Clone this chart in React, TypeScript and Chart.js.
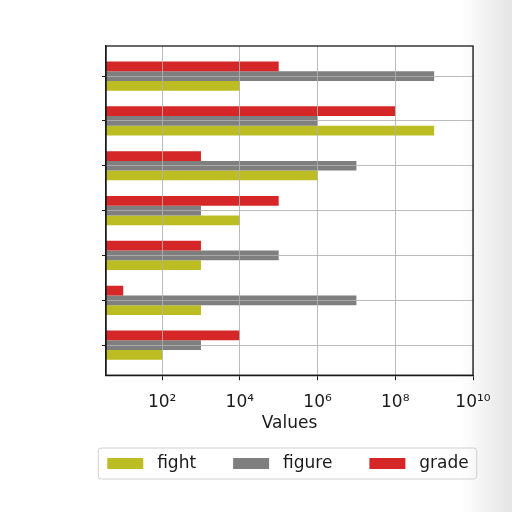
import { useEffect, useRef } from "react"
import { Chart, registerables } from "chart.js"

Chart.register(...registerables)

// categories have no visible labels in the chart, top to bottom
const categories = ["c1", "c2", "c3", "c4", "c5", "c6", "c7"]
const gradeValues = [1e5, 1e8, 1e3, 1e5, 1e3, 1e1, 1e4]
const figureValues = [1e9, 1e6, 1e7, 1e3, 1e5, 1e7, 1e3]
const fightValues = [1e4, 1e9, 1e6, 1e4, 1e3, 1e3, 1e2]
const xTickValues = [1e2, 1e4, 1e6, 1e8, 1e10]

const FONT = "'DejaVu Sans', sans-serif"
const TEXT = "#1a1a1a"
const GRID = "rgba(176,176,176,0.85)"

const SUP: Record<string, string> = {
  "0": "⁰", "1": "¹", "2": "²", "3": "³", "4": "⁴",
  "5": "⁵", "6": "⁶", "7": "⁷", "8": "⁸", "9": "⁹",
}
const powerLabel = (v: number) =>
  "10" + String(Math.round(Math.log10(v))).split("").map((d) => SUP[d]).join("")

const toPoints = (values: number[]) => values.map((v, i) => ({ x: v, y: i }))

// frame around the plot area (matplotlib style axes box)
const framePlugin = {
  id: "frame",
  afterDraw(chart: Chart) {
    const { ctx, chartArea } = chart
    ctx.save()
    ctx.strokeStyle = TEXT
    ctx.lineWidth = 1.3
    ctx.strokeRect(chartArea.left, chartArea.top, chartArea.right - chartArea.left, chartArea.bottom - chartArea.top)
    ctx.restore()
  },
}

// rounded box around the legend entries
const legendBoxPlugin = {
  id: "legendBox",
  afterDraw(chart: Chart) {
    const legend: any = chart.legend
    if (!legend || !legend.legendHitBoxes?.length) return
    const boxes = legend.legendHitBoxes
    const left = Math.min(...boxes.map((b: any) => b.left)) - 9
    const right = Math.max(...boxes.map((b: any) => b.left + b.width)) + 8
    const top = boxes[0].top - 7
    const bottom = boxes[0].top + boxes[0].height + 7
    const { ctx } = chart
    ctx.save()
    ctx.strokeStyle = "#d0d0d0"
    ctx.lineWidth = 1
    ctx.beginPath()
    ctx.roundRect(left, top, right - left, bottom - top, 3)
    ctx.stroke()
    ctx.restore()
  },
}

export default function App() {
  const chartRef = useRef<HTMLCanvasElement>(null)
  const chartInstance = useRef<Chart | null>(null)

  useEffect(() => {
    if (!chartRef.current) return
    if (chartInstance.current) chartInstance.current.destroy()
    const ctx = chartRef.current.getContext("2d")
    if (!ctx) return

    Chart.defaults.font.family = FONT
    Chart.defaults.font.size = 17
    Chart.defaults.color = TEXT

    chartInstance.current = new Chart(ctx, {
      type: "bar",
      data: {
        labels: categories,
        datasets: [
          { label: "grade", data: toPoints(gradeValues) as any, backgroundColor: "#d62728" },
          { label: "figure", data: toPoints(figureValues) as any, backgroundColor: "#7f7f7f" },
          { label: "fight", data: toPoints(fightValues) as any, backgroundColor: "#bcbd22" },
        ],
      },
      options: {
        indexAxis: "y",
        responsive: false,
        animation: false,
        datasets: {
          bar: { categoryPercentage: 0.65, barPercentage: 1 },
        },
        layout: { padding: { left: 64, right: 0, top: 46, bottom: 30 } },
        scales: {
          y: {
            type: "linear",
            reverse: true,
            offset: false,
            min: -0.67,
            max: categories.length - 1 + 0.67,
            afterBuildTicks: (scale) => {
              scale.ticks = categories.map((_, i) => ({ value: i }))
            },
            afterFit: (scale) => {
              scale.width = 42
            },
            ticks: { display: false },
            grid: { color: GRID, z: 1, tickLength: 4, tickColor: TEXT, offset: false },
            border: { color: TEXT, width: 1.3, z: 2 },
          },
          // empty right-hand axis that only reserves the right margin
          yRight: {
            type: "linear",
            position: "right",
            afterFit: (scale) => {
              scale.width = 39
            },
            ticks: { display: false },
            grid: { display: false, drawTicks: false },
            border: { display: false },
          },
          x: {
            type: "logarithmic",
            offset: false,
            min: 3.6,
            max: 1e10,
            afterBuildTicks: (scale) => {
              scale.ticks = xTickValues.map((v) => ({ value: v }))
            },
            ticks: {
              padding: 12,
              maxRotation: 0,
              autoSkip: false,
              callback: (value) => powerLabel(Number(value)),
            },
            grid: { color: GRID, z: 1, tickLength: 5, tickColor: TEXT, offset: false },
            border: { color: TEXT, width: 1.3, z: 2 },
            title: { display: true, text: "Values", padding: { top: -11, bottom: 11 } },
          },
        },
        plugins: {
          legend: {
            position: "bottom",
            reverse: true,
            labels: {
              boxWidth: 36,
              boxHeight: 11,
              padding: 10,
              // extra spaces widen the gaps like the original legend
              generateLabels: (chart) => {
                const items = Chart.defaults.plugins.legend.labels.generateLabels(chart)
                return items.map((item) => ({
                  ...item,
                  lineWidth: 0,
                  text: item.datasetIndex === 0 ? " " + item.text : " " + item.text + "     ",
                }))
              },
            },
          },
          tooltip: { enabled: false },
        },
      },
      plugins: [framePlugin, legendBoxPlugin],
    })

    return () => {
      if (chartInstance.current) {
        chartInstance.current.destroy()
        chartInstance.current = null
      }
    }
  }, [])

  return (
    <div
      style={{
        position: "absolute",
        left: 0,
        top: 0,
        width: 512,
        height: 512,
        background: "linear-gradient(to right, #ffffff 90%, #e4e4e4 100%)",
      }}
    >
      <canvas ref={chartRef} width={512} height={512} style={{ width: 512, height: 512 }} />
    </div>
  )
}
